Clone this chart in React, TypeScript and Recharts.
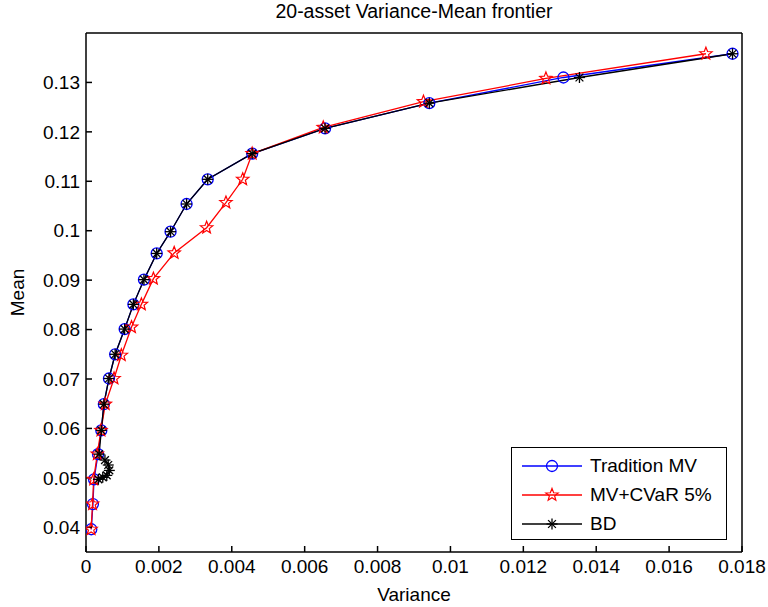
import React from "react";
import { LineChart, Line, XAxis, YAxis, Legend, Label } from "recharts";

// Tradition MV frontier
const tmvVariance = [0.000145, 0.00019, 0.00022, 0.00033, 0.00042, 0.00049, 0.00063, 0.0008, 0.00106, 0.0013, 0.00159, 0.00194, 0.00232, 0.00276, 0.00334, 0.00456, 0.00656, 0.00942, 0.0131, 0.01774];
const tmvMean = [0.0396, 0.0447, 0.0497, 0.0548, 0.0596, 0.0649, 0.0701, 0.075, 0.0801, 0.0851, 0.0901, 0.0954, 0.0998, 0.1054, 0.1104, 0.1156, 0.1207, 0.1258, 0.131, 0.1358];

// MV + CVaR 5%
const cvarVariance = [0.00014, 0.00018, 0.00021, 0.00031, 0.00041, 0.00053, 0.00077, 0.00097, 0.00125, 0.00152, 0.00185, 0.00242, 0.00331, 0.00384, 0.0043, 0.00456, 0.00651, 0.00926, 0.01262, 0.01701];
const cvarMean = [0.0396, 0.0447, 0.0497, 0.0548, 0.0596, 0.0649, 0.0701, 0.0748, 0.0805, 0.0851, 0.0903, 0.0955, 0.1006, 0.1057, 0.1104, 0.1156, 0.1209, 0.1261, 0.1308, 0.1358];

// BD
const bdVariance = [0.00034, 0.00046, 0.00057, 0.00064, 0.00061, 0.00052, 0.00036, 0.00042, 0.00049, 0.00063, 0.0008, 0.00106, 0.0013, 0.00159, 0.00194, 0.00232, 0.00276, 0.00334, 0.00456, 0.00656, 0.00942, 0.01354, 0.01774];
const bdMean = [0.0497, 0.0501, 0.0505, 0.0515, 0.0526, 0.0536, 0.0548, 0.0596, 0.0649, 0.0701, 0.075, 0.0801, 0.0851, 0.0901, 0.0954, 0.0998, 0.1054, 0.1104, 0.1156, 0.1207, 0.1258, 0.131, 0.1358];

const xTicks = [0, 0.002, 0.004, 0.006, 0.008, 0.01, 0.012, 0.014, 0.016, 0.018];
const yTicks = [0.04, 0.05, 0.06, 0.07, 0.08, 0.09, 0.1, 0.11, 0.12, 0.13];

const FONT = '"Liberation Sans", Arial, sans-serif';
const fmt = (v: number) => String(Number(v.toFixed(4)));

const toPoints = (vs: number[], ms: number[]) => vs.map((v, i) => ({ v, m: ms[i] }));

function Circle({ cx, cy, color }: any) {
  return <circle cx={cx} cy={cy} r={5.5} fill="none" stroke={color} strokeWidth={1.3} />;
}

function Pentagram({ cx, cy, color }: any) {
  const pts: string[] = [];
  for (let i = 0; i < 10; i++) {
    const r = i % 2 === 0 ? 6.5 : 2.8;
    const a = -Math.PI / 2 + (i * Math.PI) / 5;
    pts.push(`${cx + r * Math.cos(a)},${cy + r * Math.sin(a)}`);
  }
  return <polygon points={pts.join(" ")} fill="none" stroke={color} strokeWidth={1.2} />;
}

function Asterisk({ cx, cy, color }: any) {
  const r = 5.5;
  const d = r * 0.7071;
  return (
    <g stroke={color} strokeWidth={1.3}>
      <line x1={cx - r} y1={cy} x2={cx + r} y2={cy} />
      <line x1={cx} y1={cy - r} x2={cx} y2={cy + r} />
      <line x1={cx - d} y1={cy - d} x2={cx + d} y2={cy + d} />
      <line x1={cx - d} y1={cy + d} x2={cx + d} y2={cy - d} />
    </g>
  );
}

const series = [
  { name: "Tradition MV", color: "#0000ff", data: toPoints(tmvVariance, tmvMean), Marker: Circle },
  { name: "MV+CVaR 5%", color: "#ff0000", data: toPoints(cvarVariance, cvarMean), Marker: Pentagram },
  { name: "BD", color: "#000000", data: toPoints(bdVariance, bdMean), Marker: Asterisk },
];

function LegendBox() {
  return (
    <div
      style={{
        width: 216,
        height: 93,
        border: "1px solid #000",
        background: "#fff",
        boxSizing: "border-box",
        paddingTop: 3,
        fontFamily: FONT,
        fontSize: 19,
        color: "#000",
      }}
    >
      {series.map((s) => (
        <div key={s.name} style={{ display: "flex", alignItems: "center", height: 29 }}>
          <svg width={74} height={20} style={{ display: "block" }}>
            <line x1={10} x2={70} y1={10} y2={10} stroke={s.color} strokeWidth={1.3} />
            <s.Marker cx={40} cy={10} color={s.color} />
          </svg>
          <span style={{ marginLeft: 4 }}>{s.name}</span>
        </div>
      ))}
    </div>
  );
}

export default function App() {
  const tickStyle = { fill: "#000", fontSize: 19, fontFamily: FONT };
  return (
    <div style={{ position: "absolute", left: 0, top: 0, background: "#fff" }}>
      <LineChart width={768} height={607} margin={{ top: 32, right: 25, bottom: 25, left: 10 }}>
        <XAxis
          dataKey="v"
          type="number"
          domain={[0, 0.018]}
          ticks={xTicks}
          tickFormatter={fmt}
          allowDataOverflow
          height={30}
          tickSize={-6}
          tickMargin={14}
          tick={tickStyle}
          axisLine={{ stroke: "#000", strokeWidth: 1.5 }}
          tickLine={{ stroke: "#000", strokeWidth: 1.5 }}
        >
          <Label
            content={({ viewBox }: any) => (
              <text x={viewBox.x + viewBox.width / 2} y={viewBox.y + viewBox.height + 19} textAnchor="middle" fontFamily={FONT} fontSize={19} fill="#000">
                Variance
              </text>
            )}
          />
        </XAxis>
        <XAxis
          xAxisId="top"
          orientation="top"
          type="number"
          domain={[0, 0.018]}
          ticks={xTicks}
          allowDataOverflow
          height={1}
          tickSize={-6}
          tick={false}
          axisLine={{ stroke: "#000", strokeWidth: 1.5 }}
          tickLine={{ stroke: "#000", strokeWidth: 1.5 }}
        >
          <Label
            content={({ viewBox }: any) => (
              <text x={viewBox.x + viewBox.width / 2} y={viewBox.y - 14} textAnchor="middle" fontFamily={FONT} fontSize={19.5} fill="#000">
                20-asset Variance-Mean frontier
              </text>
            )}
          />
        </XAxis>
        <YAxis
          dataKey="m"
          type="number"
          domain={[0.035, 0.14]}
          ticks={yTicks}
          tickFormatter={fmt}
          allowDataOverflow
          width={76}
          tickSize={-6}
          tickMargin={12}
          tick={tickStyle}
          axisLine={{ stroke: "#000", strokeWidth: 1.5 }}
          tickLine={{ stroke: "#000", strokeWidth: 1.5 }}
        >
          <Label
            content={({ viewBox }: any) => {
              const x = 24;
              const y = viewBox.y + viewBox.height / 2;
              return (
                <text x={x} y={y} transform={`rotate(-90 ${x} ${y})`} textAnchor="middle" fontFamily={FONT} fontSize={19} fill="#000">
                  Mean
                </text>
              );
            }}
          />
        </YAxis>
        <YAxis
          yAxisId="right"
          orientation="right"
          type="number"
          domain={[0.035, 0.14]}
          ticks={yTicks}
          allowDataOverflow
          width={1}
          tickSize={-6}
          tick={false}
          axisLine={{ stroke: "#000", strokeWidth: 1.5 }}
          tickLine={{ stroke: "#000", strokeWidth: 1.5 }}
        />
        {series.map((s) => (
          <Line
            key={s.name}
            data={s.data}
            dataKey="m"
            name={s.name}
            type="linear"
            stroke={s.color}
            strokeWidth={1.3}
            isAnimationActive={false}
            dot={(p: any) => <s.Marker key={`${s.name}-${p.index}`} cx={p.cx} cy={p.cy} color={s.color} />}
            activeDot={false}
          />
        ))}
        <Legend
          layout="horizontal"
          verticalAlign="middle"
          align="center"
          wrapperStyle={{ position: "absolute", left: 511, top: 447, width: 216, height: 93 }}
          content={() => <LegendBox />}
        />
      </LineChart>
    </div>
  );
}
